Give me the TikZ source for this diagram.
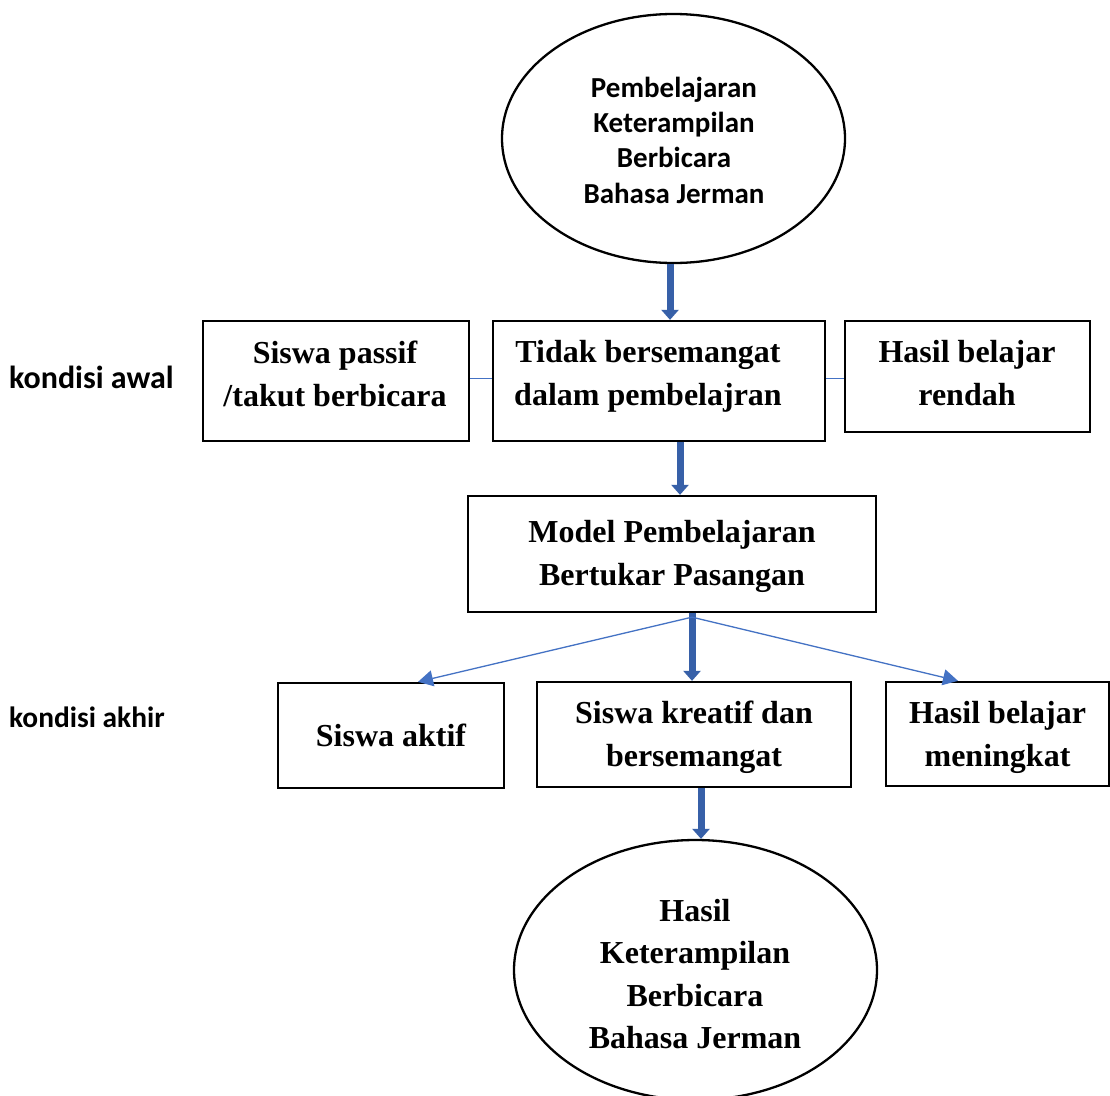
\documentclass[tikz,border=0pt]{standalone}
\usepackage{fontspec}
\setmainfont{Liberation Serif}
\newfontfamily\calib{Carlito}
\usetikzlibrary{shapes.geometric,arrows.meta}
\definecolor{thinblue}{HTML}{4472C4}
\definecolor{thickblue}{HTML}{3760A8}
\begin{document}
\begin{tikzpicture}[x=1pt,y=-1pt,
  box/.style={draw, line width=2.3pt, rectangle, inner sep=0pt},
  oval/.style={draw, line width=2.3pt, ellipse, inner sep=0pt},
  serifb/.style={font=\fontsize{32}{43}\selectfont\bfseries, align=center, inner sep=0pt},
  sansb/.style={font=\calib\fontsize{29}{35.3}\selectfont\bfseries, align=center, inner sep=0pt},
  sidelabel/.style={anchor=west, inner sep=0pt},
  thickarr/.style={draw=thickblue, line width=7pt, -{Triangle[width=17pt,length=10pt]}},
  thinarr/.style={draw=thinblue, line width=1.3pt, -{Triangle[width=16pt,length=15pt]}},
  thinline/.style={draw=thinblue, line width=1pt}]
\useasboundingbox (0,0) rectangle (1110,1095);
\fill[white] (0,0) rectangle (1110,1095);

% top ellipse
\node[oval, minimum width=343pt, minimum height=249pt] (top) at (673.5,138.5) {};
\node[sansb] (toptxt) at (674,140) {Pembelajaran\\Keterampilan\\Berbicara\\Bahasa Jerman};

% row 1
\node[box, minimum width=266pt, minimum height=120pt] (A) at (336,381) {};
\node[serifb] (Atxt) at (335,373.5) {Siswa passif\\/takut berbicara};
\node[box, minimum width=332pt, minimum height=120pt] (B) at (659,381) {};
\node[serifb] (Btxt) at (648,376.5) {Tidak bersemangat\\dalam pembelajran};
\node[box, minimum width=245pt, minimum height=111pt] (C) at (967.5,376.5) {};
\node[serifb] (Ctxt) at (967,373.5) {Hasil belajar\\rendah};

\node[sidelabel, font=\calib\fontsize{32}{38}\selectfont\bfseries] (kawal) at (9,377) {kondisi awal};

% model
\node[box, minimum width=408pt, minimum height=116pt] (D) at (672,554) {};
\node[serifb] (Dtxt) at (672,556) {Model Pembelajaran\\Bertukar Pasangan};

% row 2
\node[box, minimum width=226pt, minimum height=105pt, serifb] (E) at (391,735.5) {Siswa aktif};
\node[box, minimum width=314pt, minimum height=105pt] (F) at (694,734.5) {};
\node[serifb] (Ftxt) at (694,737.5) {Siswa kreatif dan\\bersemangat};
\node[box, minimum width=223pt, minimum height=104pt] (G) at (997.5,734) {};
\node[serifb] (Gtxt) at (997.5,737.5) {Hasil belajar\\meningkat};

\node[sidelabel, font=\calib\fontsize{29.4}{35}\selectfont\bfseries] (kakhir) at (9,717) {kondisi akhir};

% bottom ellipse
\node[oval, minimum width=363pt, minimum height=260pt] (bot) at (695.5,970) {};
\node[serifb, font=\fontsize{32}{42.3}\selectfont\bfseries] (bottxt) at (695,974) {Hasil\\Keterampilan\\Berbicara\\Bahasa Jerman};

% connectors
\draw[thickarr] ([xshift=-3.5pt]top.south) -- ([xshift=-3.5pt]top.south |- B.north);
\draw[thinline] ([yshift=3pt]A.east) -- ([yshift=3pt]B.west);
\draw[thinline] ([yshift=3pt]B.east) -- ([yshift=3pt]B.east -| C.west);
\draw[thickarr] ([xshift=21pt]B.south) -- ([xshift=21pt]B.south |- D.north);
\coordinate (fork) at ([xshift=20pt,yshift=-4pt]D.south);
\draw[thickarr] ([xshift=20pt]D.south) -- ([xshift=20pt]D.south |- F.north);
\draw[thinarr] (fork) -- ([xshift=27pt]E.north);
\draw[thinarr] (fork) -- ([xshift=-39.5pt]G.north);
\draw[thickarr] ([xshift=7pt]F.south) -- ([xshift=7pt]F.south |- bot.north);
\end{tikzpicture}
\end{document}
